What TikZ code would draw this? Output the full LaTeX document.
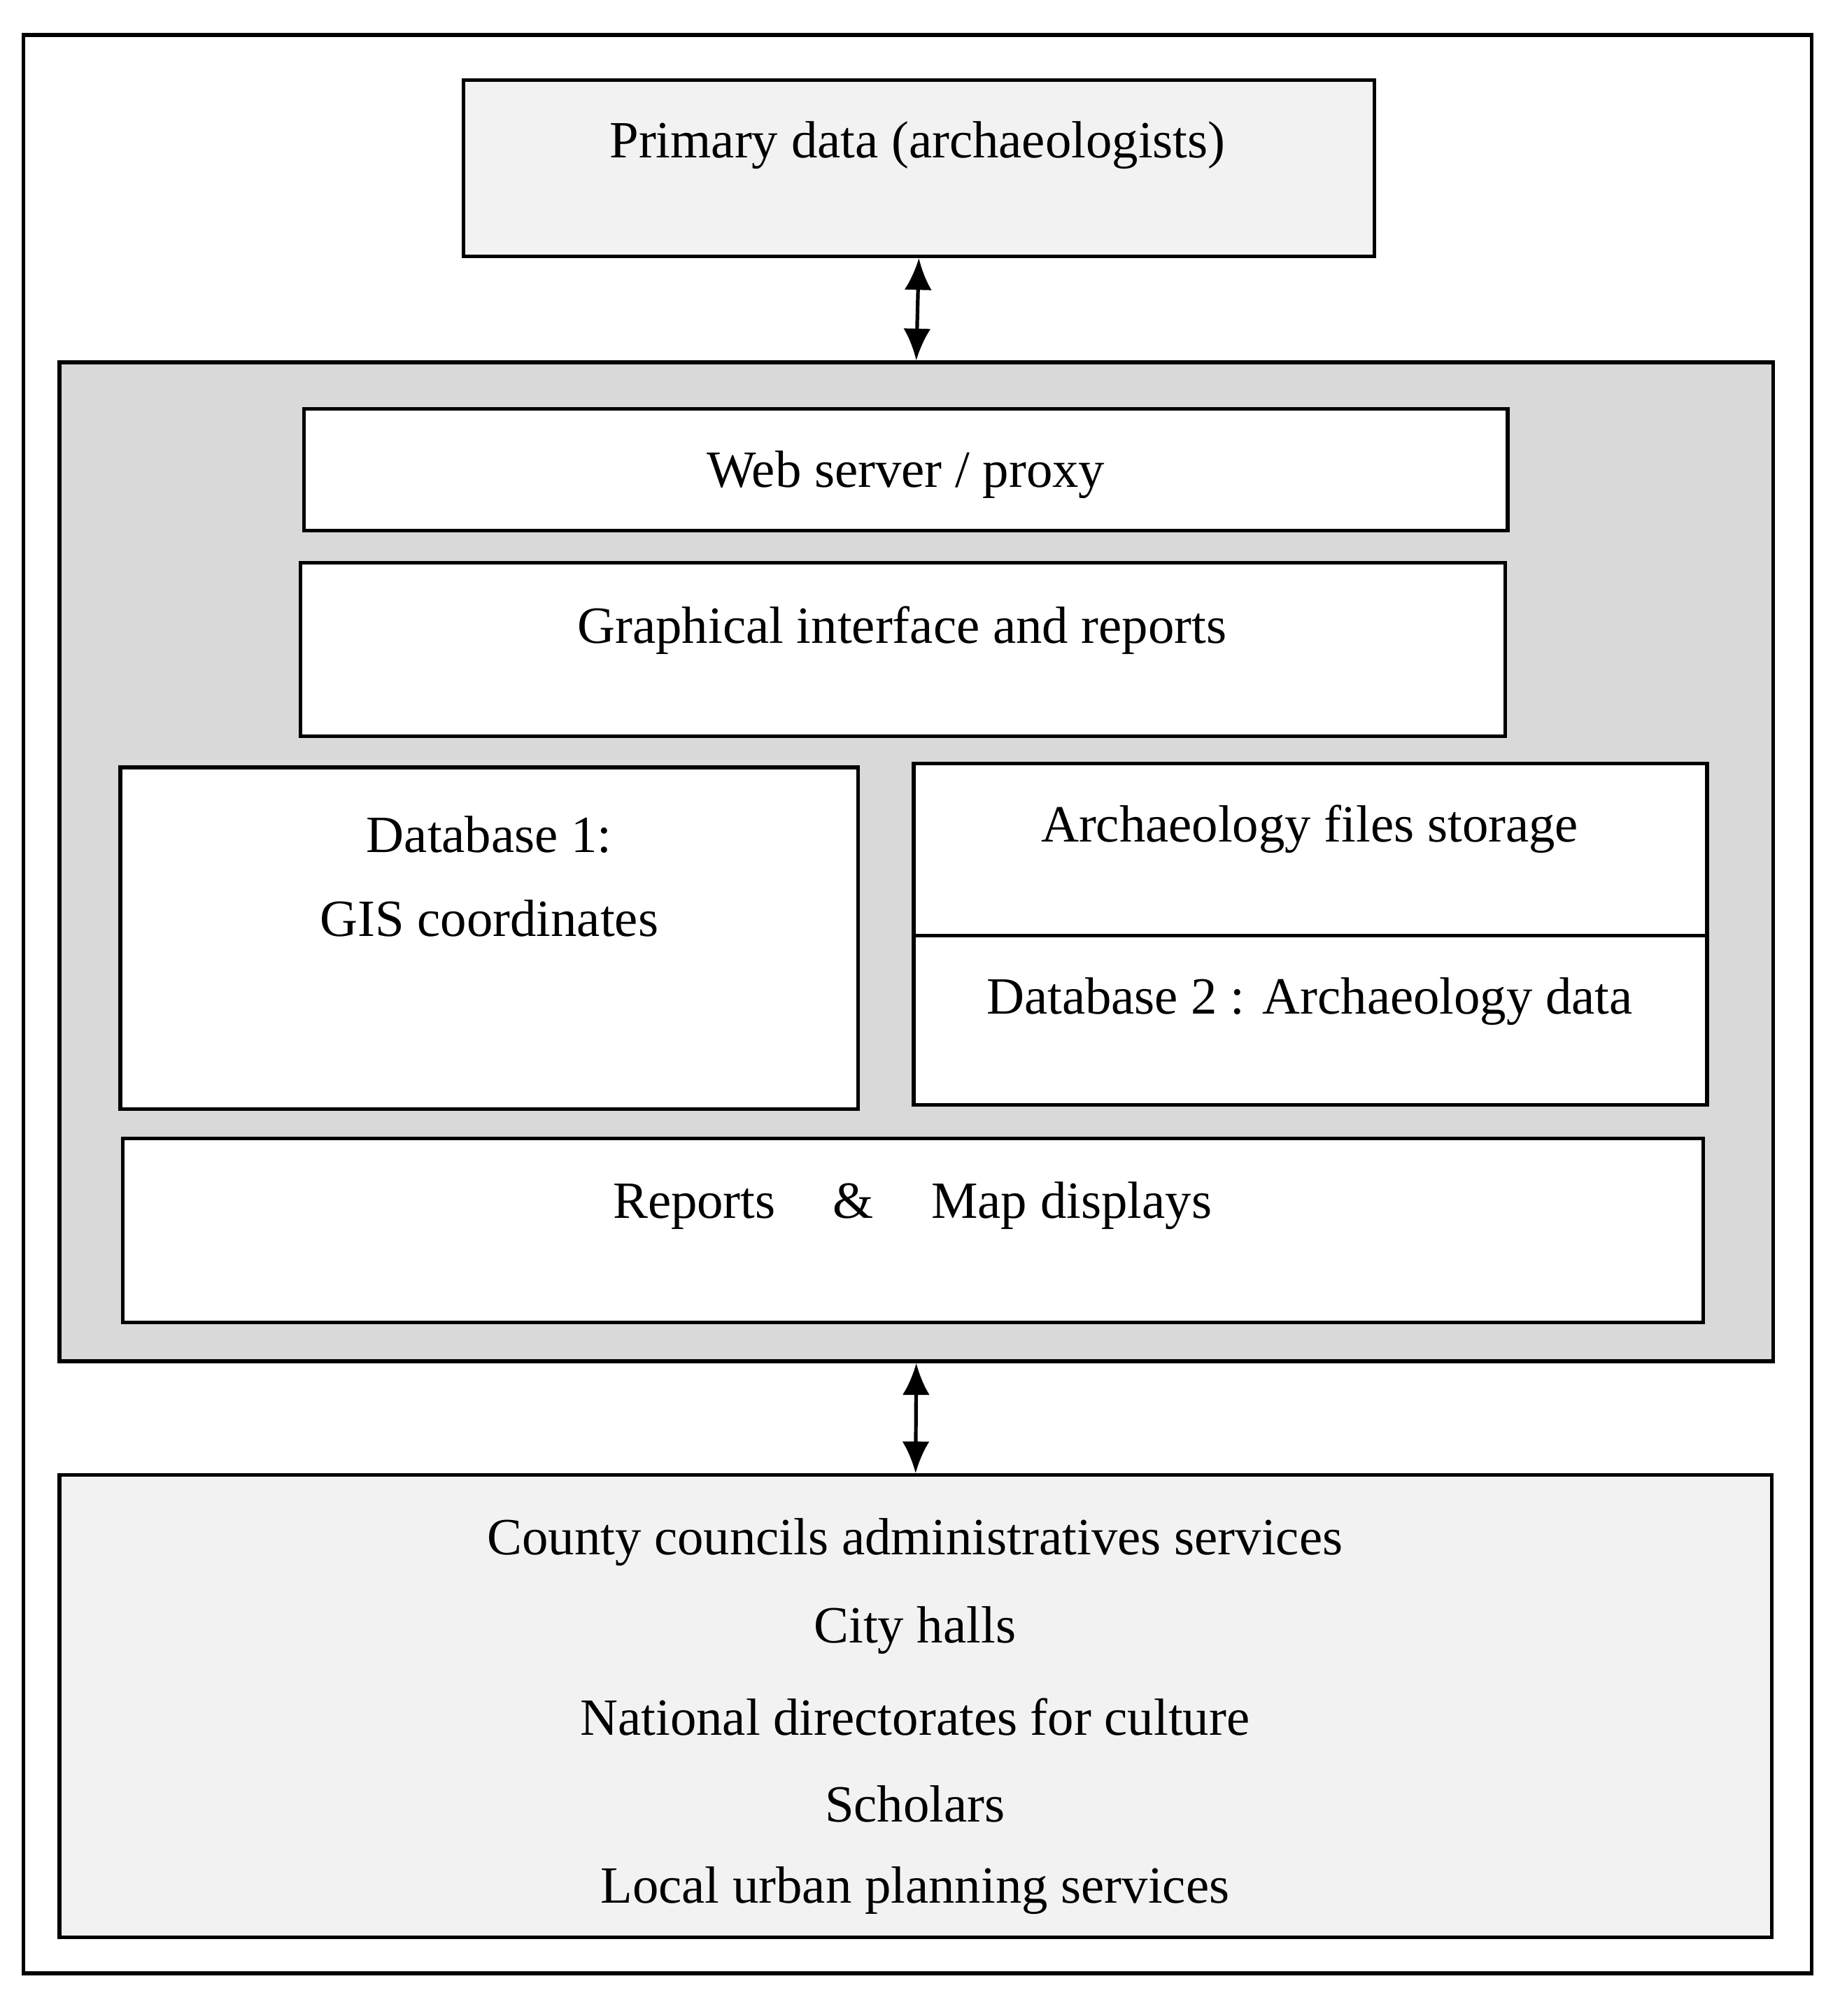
\documentclass[tikz,border=0pt]{standalone}
\usepackage{fontspec}
\setmainfont{Liberation Serif}
\usetikzlibrary{fit,arrows.meta}
\begin{document}
\begin{tikzpicture}[x=0.02cm,y=-0.02cm,
  box/.style={draw,line width=1.6pt,inner sep=0pt},
  txt/.style={font=\fontsize{23}{27}\selectfont,inner sep=0pt},
  arr/.style={line width=1.6pt,{Latex[length=14pt,width=12pt]}-{Latex[length=14pt,width=12pt]}}]
\useasboundingbox (0,0) rectangle (1416,1558);
\node[box,fit={(18,27)(1400,1525)}] (outer) {};
\node[box,fill=black!5,fit={(358,62)(1062,198)}] (primary) {};
\node[box,fill=black!15,fit={(46,280)(1370,1052)}] (core) {};
\node[box,fill=white,fit={(235,316)(1165,410)}] (web) {};
\node[box,fill=white,fit={(232,435)(1163,569)}] (gui) {};
\node[box,fill=white,fit={(93,593)(663,857)}] (db1) {};
\node[box,fill=white,fit={(706,590)(1319,723)}] (files) {};
\node[box,fill=white,fit={(706,723)(1319,854)}] (db2) {};
\node[box,fill=white,fit={(95,880)(1316,1022)}] (rep) {};
\node[box,fill=black!5,fit={(46,1140)(1369,1497)}] (users) {};
\draw[arr] (primary.south) -- (core.north);
\draw[arr] (core.south) -- (users.north);
\node[txt] (t1) at (709,112) {Primary data (archaeologists)};
\node[txt] (t2) at (700,367) {Web server / proxy};
\node[txt] (t3) at (697,487) {Graphical interface and reports};
\node[txt] (t4) at (378,645) {Database 1:};
\node[txt] (t5) at (378,710) {GIS coordinates};
\node[txt] (t6) at (1012,641) {Archaeology files storage};
\node[txt] (t7) at (1012,774) {Database 2 : Archaeology data};
\node[txt] (t8) at (705,932) {Reports\hspace{1.1em}\&\hspace{1.1em}Map displays};
\node[txt] (u1) at (707,1192) {County councils administratives services};
\node[txt] (u2) at (707,1260) {City halls};
\node[txt] (u3) at (707,1327) {National directorates for culture};
\node[txt] (u4) at (707,1394) {Scholars};
\node[txt] (u5) at (707,1461) {Local urban planning services};
\end{tikzpicture}
\end{document}
